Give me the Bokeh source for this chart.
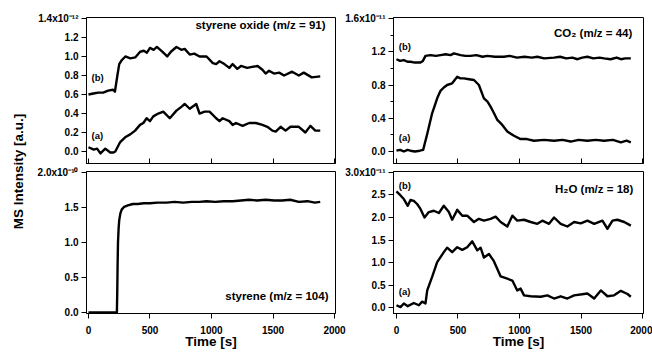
from math import pi
from bokeh.plotting import figure
from bokeh.layouts import row, column
from bokeh.models import FixedTicker, Label
from bokeh.embed import file_html
from bokeh.resources import INLINE

# ---------------- data (intensities in units of the top tick's exponent) ----------------
x_ticks = [0, 500, 1000, 1500, 2000]
x_tick_labels = ["0", "500", "1000", "1500", "2000"]

# styrene oxide (m/z = 91), x1e-12
so_t_b = [0, 40, 80, 120, 160, 200, 215, 235, 250, 270, 300, 340, 380, 420, 450, 475, 500, 530, 556, 600,
          640, 670, 715, 755, 782, 823, 860, 903, 960, 1011, 1038, 1065, 1105, 1145, 1172, 1210, 1240, 1290,
          1330, 1375, 1414, 1440, 1468, 1508, 1550, 1590, 1655, 1710, 1750, 1815, 1884]
so_b = [0.60, 0.61, 0.62, 0.62, 0.64, 0.65, 0.63, 0.80, 0.92, 0.96, 1.00, 0.98, 0.99, 1.05, 1.06, 1.04, 1.09,
        1.07, 1.10, 1.05, 1.00, 1.05, 1.10, 1.07, 1.08, 1.02, 1.03, 1.00, 1.00, 0.93, 0.92, 0.95, 0.92, 0.88,
        0.92, 0.87, 0.90, 0.88, 0.89, 0.90, 0.86, 0.82, 0.85, 0.82, 0.83, 0.80, 0.84, 0.80, 0.83, 0.78, 0.79]
so_t_a = [0, 43, 70, 97, 137, 177, 204, 218, 258, 298, 339, 379, 419, 446, 473, 500, 527, 567, 608, 661,
          715, 755, 782, 823, 876, 903, 944, 984, 1038, 1065, 1091, 1145, 1172, 1199, 1253, 1306, 1360, 1414,
          1454, 1495, 1522, 1562, 1602, 1642, 1710, 1763, 1804, 1844, 1884]
so_a = [0.045, 0.02, 0.03, -0.02, 0.03, -0.01, -0.01, 0.0, 0.10, 0.15, 0.18, 0.22, 0.28, 0.30, 0.35, 0.32,
        0.37, 0.40, 0.42, 0.35, 0.43, 0.47, 0.50, 0.45, 0.50, 0.40, 0.42, 0.42, 0.35, 0.32, 0.35, 0.32, 0.28,
        0.30, 0.27, 0.30, 0.30, 0.28, 0.26, 0.22, 0.21, 0.26, 0.22, 0.26, 0.26, 0.20, 0.27, 0.22, 0.22]
so_yticks = [0.0, 0.2, 0.4, 0.6, 0.8, 1.0, 1.2, 1.4]
so_ylabels = ["0.0", "0.2", "0.4", "0.6", "0.8", "1.0", "1.2", "1.4x10\u207b\u00b9\u00b2"]

# CO2 (m/z = 44), x1e-11
co2_t_b = [0, 30, 60, 90, 114, 150, 195, 215, 236, 277, 320, 358, 400, 440, 467, 521, 560, 602, 650, 700,
           738, 800, 874, 920, 980, 1040, 1100, 1145, 1200, 1281, 1330, 1380, 1430, 1471, 1510, 1552, 1600,
           1650, 1688, 1740, 1790, 1824, 1860, 1905]
co2_b = [1.11, 1.09, 1.10, 1.08, 1.08, 1.07, 1.07, 1.09, 1.15, 1.16, 1.15, 1.16, 1.17, 1.16, 1.18, 1.16,
         1.15, 1.15, 1.16, 1.14, 1.15, 1.14, 1.14, 1.15, 1.13, 1.14, 1.13, 1.14, 1.12, 1.13, 1.14, 1.12, 1.13,
         1.11, 1.13, 1.14, 1.12, 1.13, 1.12, 1.11, 1.13, 1.11, 1.12, 1.12]
co2_t_a = [0, 30, 60, 90, 114, 150, 190, 217, 250, 290, 331, 358, 385, 412, 453, 494, 520, 548, 590, 630,
           670, 711, 740, 765, 790, 820, 860, 901, 955, 1009, 1060, 1118, 1200, 1281, 1350, 1417, 1480, 1552,
           1620, 1688, 1760, 1824, 1870, 1905]
co2_a = [0.01, 0.02, 0.0, 0.02, 0.01, 0.0, 0.01, 0.02, 0.21, 0.46, 0.64, 0.73, 0.77, 0.80, 0.82, 0.90, 0.88,
         0.88, 0.87, 0.86, 0.80, 0.64, 0.60, 0.54, 0.47, 0.38, 0.32, 0.24, 0.19, 0.15, 0.15, 0.13, 0.14, 0.13,
         0.14, 0.12, 0.14, 0.13, 0.14, 0.13, 0.14, 0.11, 0.13, 0.11]
co2_yticks = [0.0, 0.4, 0.8, 1.2, 1.6]
co2_yminor = [0.2, 0.6, 1.0, 1.4]
co2_ylabels = ["0.0", "0.4", "0.8", "1.2", "1.6x10\u207b\u00b9\u00b9"]

# styrene (m/z = 104), x1e-10
sty_t = [0, 100, 200, 231, 234, 237, 240, 245, 250, 260, 270, 290, 320, 360, 400, 450, 500, 560, 634, 700,
         770, 840, 903, 960, 1030, 1100, 1172, 1240, 1306, 1370, 1441, 1510, 1575, 1640, 1710, 1780, 1840, 1884]
sty = [0, 0, 0, 0, 0.3, 0.7, 1.0, 1.2, 1.32, 1.42, 1.47, 1.51, 1.53, 1.55, 1.55, 1.56, 1.56, 1.57, 1.57, 1.58,
       1.57, 1.58, 1.58, 1.59, 1.58, 1.59, 1.59, 1.60, 1.61, 1.60, 1.61, 1.60, 1.60, 1.61, 1.58, 1.59, 1.57, 1.58]
sty_yticks = [0.0, 0.5, 1.0, 1.5, 2.0]
sty_ylabels = ["0.0", "0.5", "1.0", "1.5", "2.0x10\u207b\u00b9\u2070"]

# H2O (m/z = 18), x1e-11
h2o_t_b = [0, 33, 60, 92, 114, 141, 168, 195, 228, 263, 304, 345, 385, 426, 453, 494, 535, 575, 630, 670,
           711, 765, 806, 847, 901, 942, 982, 1037, 1091, 1145, 1186, 1240, 1281, 1335, 1389, 1444, 1498, 1552,
           1607, 1674, 1715, 1756, 1796, 1851, 1905]
h2o_b = [2.58, 2.49, 2.41, 2.26, 2.39, 2.37, 2.30, 2.19, 2.00, 2.12, 2.15, 2.10, 2.26, 2.12, 1.95, 2.17, 2.04,
         2.04, 1.90, 1.97, 1.93, 1.97, 2.02, 1.90, 1.80, 2.04, 1.93, 1.95, 1.90, 1.86, 1.93, 1.86, 2.00, 1.86,
         1.80, 1.90, 1.87, 1.93, 1.86, 1.93, 1.75, 1.93, 1.95, 1.90, 1.82]
h2o_t_a = [0, 33, 60, 92, 141, 182, 209, 236, 250, 290, 331, 385, 412, 453, 494, 535, 575, 616, 657, 684,
           711, 752, 792, 847, 901, 942, 982, 1009, 1037, 1091, 1172, 1227, 1281, 1335, 1389, 1444, 1525, 1552,
           1607, 1661, 1715, 1769, 1824, 1878, 1905]
h2o_a = [0.05, 0.01, 0.09, 0.03, 0.10, 0.05, 0.13, 0.09, 0.38, 0.68, 1.01, 1.23, 1.33, 1.23, 1.34, 1.28, 1.34,
         1.47, 1.27, 1.33, 1.11, 1.19, 1.03, 0.69, 0.64, 0.60, 0.38, 0.42, 0.27, 0.25, 0.24, 0.27, 0.20, 0.25,
         0.20, 0.27, 0.30, 0.31, 0.20, 0.38, 0.25, 0.27, 0.37, 0.30, 0.24]
h2o_yticks = [0.0, 0.5, 1.0, 1.5, 2.0, 2.5, 3.0]
h2o_ylabels = ["0.0", "0.5", "1.0", "1.5", "2.0", "2.5", "3.0x10\u207b\u00b9\u00b9"]

# ---------------- styling ----------------
FONT = "Liberation Sans"
LW = 2.4


def make_panel(width, height, xr, yr, mbl, mbr, mbt, mbb, yticks, ylabels, bottom_labels,
               yminor=None, styles=None):
    kw = dict(width=width, height=height, x_range=xr, y_range=yr, output_backend="svg",
              toolbar_location=None, min_border_left=mbl, min_border_right=mbr,
              min_border_top=mbt, min_border_bottom=mbb)
    if styles:
        kw["styles"] = styles
    p = figure(**kw)
    p.grid.visible = False
    p.outline_line_color = "black"
    p.outline_line_width = 1
    p.background_fill_color = "white"
    p.border_fill_color = None

    xa = p.xaxis[0]
    xa.ticker = FixedTicker(ticks=x_ticks)
    xa.axis_line_color = "black"
    xa.major_tick_line_color = "black"
    xa.minor_tick_line_color = None
    if bottom_labels:
        xa.major_tick_in = 0
        xa.major_tick_out = 5
        xa.major_label_standoff = 7
        xa.major_label_overrides = dict(zip(x_ticks, x_tick_labels))
        xa.major_label_text_font = FONT
        xa.major_label_text_font_style = "bold"
        xa.major_label_text_font_size = "10px"
        xa.major_label_text_color = "black"
        xa.axis_label = "Time [s]"
        xa.axis_label_standoff = -3
        xa.axis_label_text_font = FONT
        xa.axis_label_text_font_style = "bold"
        xa.axis_label_text_font_size = "13.5px"
        xa.axis_label_text_color = "black"
    else:
        xa.major_tick_in = 5
        xa.major_tick_out = 0
        xa.major_label_standoff = 0
        xa.major_label_text_font_size = "0px"
        xa.major_label_text_color = None

    ya = p.yaxis[0]
    ya.ticker = FixedTicker(ticks=yticks, minor_ticks=yminor or [])
    ya.axis_line_color = "black"
    ya.major_tick_line_color = "black"
    ya.major_tick_in = 0
    ya.major_tick_out = 5
    if yminor:
        ya.minor_tick_line_color = "black"
        ya.minor_tick_in = 0
        ya.minor_tick_out = 3
    else:
        ya.minor_tick_line_color = None
    ya.major_label_standoff = 3
    ya.major_label_overrides = dict(zip(yticks, ylabels))
    ya.major_label_text_font = FONT
    ya.major_label_text_font_style = "bold"
    ya.major_label_text_font_size = "10px"
    ya.major_label_text_color = "black"
    return p


def add_text(p, x, y, text, size="10px", align="left", baseline="middle", angle=0.0):
    p.add_layout(Label(x=x, y=y, text=text, text_font=FONT, text_font_style="bold",
                       text_font_size=size, text_align=align, text_baseline=baseline,
                       text_color="black", angle=angle))


LAB_W = 28
L_W, R_W = 319, 316
TOP_H, BOT_H = 165, 187
right_style = {"margin-left": "-11px"}

tl = make_panel(L_W, TOP_H, (-16, 2008), (-0.126, 1.41), 58, 12, 17, 2, so_yticks, so_ylabels, False)
tr = make_panel(R_W, TOP_H, (-24, 2008), (-0.144, 1.612), 57, 9, 17, 2, co2_yticks, co2_ylabels, False,
                yminor=co2_yminor, styles=right_style)
bl = make_panel(L_W, BOT_H, (-16, 2008), (-0.014, 2.014), 58, 12, 6, 39, sty_yticks, sty_ylabels, True)
br = make_panel(R_W, BOT_H, (-24, 2008), (-0.133, 3.022), 57, 9, 6, 39, h2o_yticks, h2o_ylabels, True,
                styles=right_style)

for p, series in ((tl, [(so_t_b, so_b), (so_t_a, so_a)]),
                  (tr, [(co2_t_b, co2_b), (co2_t_a, co2_a)]),
                  (bl, [(sty_t, sty)]),
                  (br, [(h2o_t_b, h2o_b), (h2o_t_a, h2o_a)])):
    for t, v in series:
        p.line(t, v, line_width=LW, line_color="black", line_join="round")

# panel annotations
add_text(tl, 1927, 1.326, "styrene oxide (m/z = 91)", size="11.5px", align="right")
add_text(tl, 25, 0.78, "(b)", size="9.5px")
add_text(tl, 25, 0.168, "(a)", size="9.5px")

add_text(tr, 1917, 1.43, "CO\u2082 (m/z = 44)", size="11.5px", align="right")
add_text(tr, 19, 1.267, "(b)", size="9.5px")
add_text(tr, 19, 0.165, "(a)", size="9.5px")

add_text(bl, 1951, 0.243, "styrene (m/z = 104)", size="11.5px", align="right")

add_text(br, 1925, 2.64, "H\u2082O (m/z = 18)", size="11.5px", align="right")
add_text(br, 19, 2.71, "(b)", size="9.5px")
add_text(br, 19, 0.362, "(a)", size="9.5px")

# shared y-axis title
lab = figure(width=LAB_W, height=TOP_H + BOT_H, x_range=(0, 1), y_range=(0, 1), output_backend="svg",
             toolbar_location=None, min_border=0)
lab.axis.visible = False
lab.grid.visible = False
lab.outline_line_color = None
lab.border_fill_color = None
lab.background_fill_color = None
lab.add_layout(Label(x=0.643, y=0.514, text="MS Intensity [a.u.]", text_font=FONT,
                     text_font_style="bold", text_font_size="13.5px", text_align="center",
                     text_baseline="middle", angle=pi / 2, text_color="black"))

p = row(lab, column(row(tl, tr), row(bl, br)))

open("out.html", "w").write(file_html(p, INLINE))
